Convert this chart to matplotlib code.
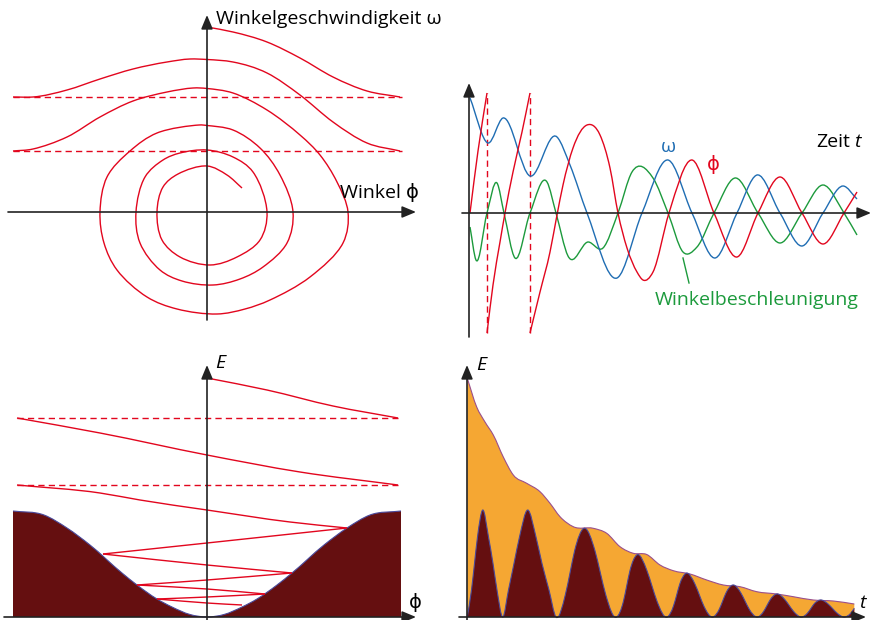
import numpy as np
import matplotlib
matplotlib.use("Agg")
import matplotlib.pyplot as plt
from matplotlib.path import Path
from matplotlib.patches import PathPatch

plt.rcParams['font.family'] = ['Open Sans', 'DejaVu Sans']

# ---- Phasenraum (oben links): Winkel phi, Winkelgeschwindigkeit omega ----
tl_phi_a = [0, 26, 60, 93, 126, 160, 193]
tl_om_a = [185, 180, 170, 154, 135, 121, 115]
tl_phi_b = [-194, -174, -140, -107, -74, -40, -17, 0, 26, 60, 93, 126, 160, 193]
tl_om_b = [115, 115, 122, 133, 143, 150, 153, 152.5, 150, 139, 117, 90, 69, 61]
tl_phi_c = [-194, -174, -140, -107, -74, -40, -14, 0, 26, 60, 93, 113, 130, 141,
            136, 103, 63, 38, 10, -30, -60, -90, -103, -107, -100, -77, -50, -8, 0,
            26, 53, 73, 86, 80, 56, 33, 6, -25, -47, -67, -71, -62, -44, -27, 0,
            26, 46, 60, 53, 30, 3, -27, -45, -50, -44, -29, 0, 20, 35]
tl_om_c = [61, 63, 75, 95, 111, 120, 124, 123.5, 119, 102, 77, 57, 30, 0,
           -31, -65, -88, -97, -102, -97, -85, -58, -31, 0, 35, 61, 79, 87, 86.5,
           82, 64, 37, 0, -31, -55, -67, -73, -69, -58, -31, 0, 35, 52, 59, 62,
           55, 40, 0, -28, -45, -53, -45, -28, 0, 25, 38, 46, 37, 24]
tl_wrap_levels = [115, 61]

# ---- Zeitverlauf (oben rechts) ----
tr_t_om = [1, 19, 34, 61, 88, 101, 118, 148, 173, 199, 223, 246, 268, 288, 311, 333, 354, 374, 388]
tr_om = [115, 70, 95, 37, 76, 48, 0, -65, 0, 53, 0, -45, 0, 38, 0, -33, 0, 27, 14]
tr_t_phi1 = [1, 9, 18]
tr_phi1 = [0, 62, 120]
tr_t_phi2 = [18, 24, 31, 36, 44, 53, 61]
tr_phi2 = [-120, -72, -29, 0, 41, 81, 120]
tr_t_phi3 = [61, 71, 81, 88, 94, 104, 118, 131, 141, 149, 158, 168, 174, 184,
             200, 223, 245, 268, 289, 311, 333, 354, 375, 388]
tr_phi3 = [-120, -79, -39, -2, 28, 65, 88, 78, 45, 0, -35, -59, -67, -59,
           0, 53, 0, -44, 0, 36, 0, -31, 0, 21]
tr_t_acc = [1, 7, 18, 28, 35, 46, 61, 78, 87, 99, 119, 134, 149, 163, 184, 199,
            214, 228, 245, 266, 289, 311, 333, 354, 375, 388]
tr_acc = [-14, -47, 0, 30, 0, -45, 0, 31, 0, -43, -29, -35, 0, 41, 35, 0,
          -39, -34, 0, 35, 0, -30, 0, 28, 0, -22]
tr_wrap_times = [18, 61]

# ---- Energie ueber Winkel (unten links) ----
bl_phi_pot = [-194, -163, -140, -117, -85, -70, -50, -35, -17, 0,
              17, 35, 50, 70, 85, 117, 140, 163, 194]
bl_pot = [106, 102, 89, 72, 44, 32, 18, 10, 2.5, 0,
          2.5, 10, 18, 32, 44, 72, 89, 102, 106]
bl_seg_phi = [[0, 60, 126, 191],
              [-190, -107, 0, 93, 191],
              [-190, -107, -67, 0, 83, 140]]
bl_seg_E = [[239, 227, 211, 199],
            [199, 184, 162, 145, 132],
            [132, 124, 117, 107, 95, 89]]
bl_turn_phi = [140, -104, 85, -70, 58, -50, 35]
bl_turn_E = [89, 63, 44, 32, 23, 18, 12]
bl_cross_E = [74, 52, 37, 28, 20, 14]
bl_wrap_levels = [199, 132]

# ---- Energie ueber Zeit (unten rechts) ----
br_t_pot = [0.3, 4.5, 7.5, 10.5, 15.7, 21.5, 26, 30, 35.7,
            41.5, 47, 52.5, 60.7, 69, 75, 82, 89,
            98.3, 103, 107.7, 117, 127.9, 133.4, 138.8, 149.7,
            156.4, 159.7, 163, 169.7, 179.9, 185, 190.1, 200.3,
            206.5, 209.7, 212.8, 219, 227.9, 232.4, 236.8, 245.7,
            252.4, 255.7, 259, 265.7, 273.9, 278, 282.1, 290.3,
            296.8, 300, 303.2, 309.7, 318, 322.2, 326.4, 334.7,
            340.8, 343.9, 346.9, 353, 361.3, 365.5, 369.7, 378, 383, 387.3]
br_pot = [0, 27, 53.5, 80, 107, 80, 53.5, 27, 0,
          27, 53.5, 80, 107, 80, 53.5, 27, 0,
          22, 44, 66.5, 88.7, 66.5, 44, 22, 0,
          15.5, 31, 46.5, 62, 46.5, 31, 15.5, 0,
          11, 22, 33, 43.7, 33, 22, 11, 0,
          8, 16, 24, 32, 24, 16, 8, 0,
          5.8, 11.5, 17.2, 23, 17.2, 11.5, 5.8, 0,
          4.2, 8.5, 12.8, 17, 12.8, 8.5, 4.2, 0, 3, 8.7]
br_t_tot = [0.3, 9.7, 18, 26.3, 36.3, 46.3, 59.7, 73, 83, 93, 106.3, 126.3, 139.7,
            153, 166.3, 179.7, 193, 206.3, 223, 239.7, 256.3, 273, 289.7, 309.7,
            326.3, 346.3, 366.3, 387.3]
br_tot = [238.7, 210, 195, 182, 160, 142, 133.7, 125.3, 113.7, 100.3, 90.3, 88.7, 83.7,
          70.3, 63.7, 62.5, 52, 46.3, 43, 37, 32, 30.3, 25.3, 23,
          20.3, 17, 16, 13]

RED = '#e2061e'
BLUE = '#1f6db3'
GREEN = '#1c9a3c'
DARK = '#650f10'
ORANGE = '#f5a733'
AXC = '#222222'
W, H = 872, 620
FS = 14


def smooth(xs, ys, param=False):
    # Knoten = x-Werte (Funktionskurven) oder zentripetal (Spirale)
    p = np.column_stack([xs, ys]).astype(float)
    if param:
        seg = np.hypot(*np.diff(p, axis=0).T) ** 0.5
        ts = np.concatenate([[0], np.cumsum(np.maximum(seg, 1e-6))])
    else:
        ts = p[:, 0].copy()
    ext = np.vstack([2 * p[0] - p[1], p, 2 * p[-1] - p[-2]])
    tt = np.concatenate([[2 * ts[0] - ts[1]], ts, [2 * ts[-1] - ts[-2]]])
    verts = [p[0]]
    codes = [Path.MOVETO]
    for i in range(1, len(ext) - 2):
        p0, p1, p2, p3 = ext[i - 1], ext[i], ext[i + 1], ext[i + 2]
        d0 = tt[i] - tt[i - 1]
        d1 = tt[i + 1] - tt[i]
        d2 = tt[i + 2] - tt[i + 1]
        m1 = ((p1 - p0) / d0 - (p2 - p0) / (d0 + d1) + (p2 - p1) / d1) * d1
        m2 = ((p2 - p1) / d1 - (p3 - p1) / (d1 + d2) + (p3 - p2) / d2) * d1
        verts += [p1 + m1 / 3, p2 - m2 / 3, p2]
        codes += [Path.CURVE4] * 3
    return verts, codes


def curve(ax, xs, ys, color, lw=1.0, z=3, param=False):
    v, c = smooth(xs, ys, param)
    ax.add_patch(PathPatch(Path(v, c), fill=False, edgecolor=color, lw=lw,
                           zorder=z, capstyle='butt'))


def filled(ax, xs, ys, color, edge, z=2):
    v, c = smooth(xs, ys)
    v = v + [(xs[-1], 0), (xs[0], 0), (xs[0], ys[0])]
    c = c + [Path.LINETO, Path.LINETO, Path.CLOSEPOLY]
    ax.add_patch(PathPatch(Path(v, c), facecolor=color, edgecolor='none', zorder=z))
    curve(ax, xs, ys, edge, lw=0.8, z=z + 0.1)


def panel(px0, py0, px1, py1, ox, oy):
    ax = fig.add_axes([px0 / W, 1 - py1 / H, (px1 - px0) / W, (py1 - py0) / H])
    ax.set_xlim(px0 - ox, px1 - ox)
    ax.set_ylim(oy - py1, oy - py0)
    ax.axis('off')
    return ax


def arrow(ax, x0, y0, x1, y1):
    ax.annotate('', xy=(x1, y1), xytext=(x0, y0), annotation_clip=False,
                arrowprops=dict(arrowstyle='-|>,head_length=0.6,head_width=0.25',
                                color=AXC, lw=1.2, shrinkA=0, shrinkB=0,
                                mutation_scale=14), zorder=6)


dash = (0, (4.5, 3))
fig = plt.figure(figsize=(8.72, 6.2), dpi=100)

# oben links
ax1 = panel(0, 0, 436, 335, 207, 212)
for lev in tl_wrap_levels:
    ax1.plot([-194, 195], [lev, lev], color=RED, lw=1.0, ls=dash, zorder=3)
curve(ax1, tl_phi_a, tl_om_a, RED)
curve(ax1, tl_phi_b, tl_om_b, RED)
curve(ax1, tl_phi_c, tl_om_c, RED, param=True)
arrow(ax1, -199, 0, 209, 0)
arrow(ax1, 0, -108, 0, 197)
ax1.text(9, 187.5, 'Winkelgeschwindigkeit ω', fontsize=FS, va='baseline', ha='left')
ax1.text(133, 14, 'Winkel ϕ', fontsize=FS, va='baseline', ha='left')

# oben rechts
ax2 = panel(436, 0, 872, 345, 469, 213)
for tw in tr_wrap_times:
    ax2.plot([tw, tw], [-120, 120], color=RED, lw=1.0, ls=dash, zorder=3)
arrow(ax2, -7, 0, 402, 0)
arrow(ax2, 0, -124, 0, 130)
curve(ax2, tr_t_acc, tr_acc, GREEN)
curve(ax2, tr_t_om, tr_om, BLUE)
curve(ax2, tr_t_phi1, tr_phi1, RED)
curve(ax2, tr_t_phi2, tr_phi2, RED)
curve(ax2, tr_t_phi3, tr_phi3, RED)
ax2.text(347, 66, 'Zeit', fontsize=FS, va='baseline', ha='left')
ax2.text(385, 66, 't', fontsize=FS, va='baseline', ha='left', style='italic')
ax2.text(199, 66, 'ω', fontsize=FS, color=BLUE, ha='center', va='center')
ax2.text(244, 49, 'ϕ', fontsize=FS, color=RED, ha='center', va='center')
ax2.text(186, -92, 'Winkelbeschleunigung', fontsize=FS, color=GREEN, va='baseline', ha='left')
ax2.plot([214, 220], [-45, -70], color=GREEN, lw=1.0)

# unten links
ax3 = panel(0, 345, 436, 620, 207, 617)
filled(ax3, bl_phi_pot, bl_pot, DARK, '#4a4a9c')
for lev in bl_wrap_levels:
    ax3.plot([-190, 191], [lev, lev], color=RED, lw=1.0, ls=dash, zorder=3)
for px, ey in zip(bl_seg_phi, bl_seg_E):
    curve(ax3, px, ey, RED)
for i in range(len(bl_cross_E)):
    curve(ax3, [bl_turn_phi[i], 0, bl_turn_phi[i + 1]],
          [bl_turn_E[i], bl_cross_E[i], bl_turn_E[i + 1]], RED, param=True)
arrow(ax3, -203, 0, 209, 0)
arrow(ax3, 0, -3, 0, 252)
ax3.text(8, 249, 'E', fontsize=FS, style='italic', va='baseline', ha='left')
ax3.text(208.5, 15, 'ϕ', fontsize=FS, va='center', ha='center')

# unten rechts
ax4 = panel(436, 345, 872, 620, 467, 617)
filled(ax4, br_t_tot, br_tot, ORANGE, '#9a4f8c', z=2)
filled(ax4, br_t_pot, br_pot, DARK, '#4a4a9c', z=3)
arrow(ax4, -8, 0, 399, 0)
arrow(ax4, 0, -3, 0, 252)
ax4.text(9, 247, 'E', fontsize=FS, style='italic', va='baseline', ha='left')
ax4.text(392, 9, 't', fontsize=FS, style='italic', va='baseline', ha='left')

fig.savefig('out.png', dpi=100)
